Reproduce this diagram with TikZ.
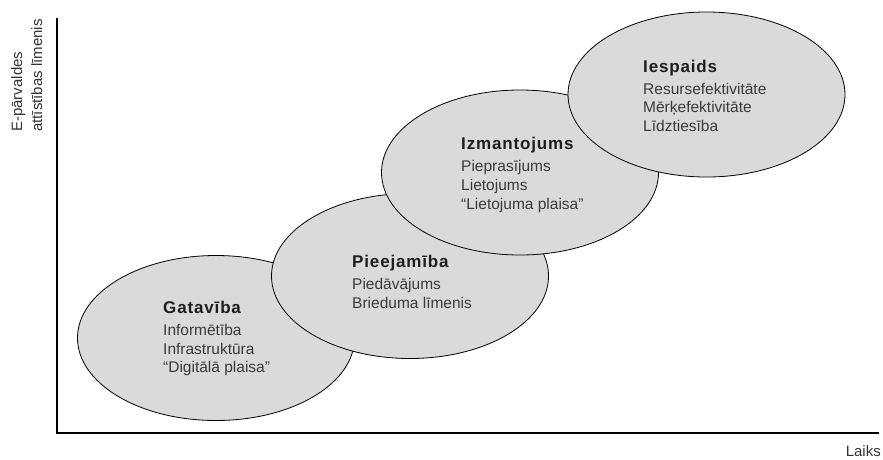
\documentclass[tikz,border=0pt]{standalone}
\usepackage{fontspec}
\setmainfont{Liberation Sans}
\usetikzlibrary{shapes.geometric}
\definecolor{stagefill}{HTML}{DADADA}
\definecolor{titletext}{HTML}{1E1E1E}
\definecolor{bodytext}{HTML}{3A3A3A}
\definecolor{axistext}{HTML}{333333}
\newfontfamily\titlefont[LetterSpace=5]{Liberation Sans Bold}
\begin{document}
\begin{tikzpicture}[x=1pt,y=-1pt,
  stage/.style={ellipse, draw=black, line width=0.8pt, fill=stagefill,
    minimum width=277pt, minimum height=165pt, inner sep=0pt},
  stagetitle/.style={anchor=base west, inner sep=0pt, text=titletext,
    font=\titlefont\fontsize{17}{20}\selectfont},
  stageitem/.style={anchor=base west, inner sep=0pt, text=bodytext,
    font=\fontsize{15.5}{18}\selectfont},
  axislabel/.style={inner sep=0pt, text=axistext,
    font=\fontsize{15}{18}\selectfont},
  axisline/.style={line width=1.5pt, draw=black}]
\useasboundingbox (0,0) rectangle (883,459);

% axes
\coordinate (top) at (57,18);
\coordinate (origin) at (57,433);
\coordinate (right) at (879,433);
\draw[axisline] (top) -- (origin) -- (right);

% axis labels
\node[axislabel, rotate=90, anchor=base west] (ylab1) at (22,132) {E-pārvaldes};
\node[axislabel, rotate=90, anchor=base west] (ylab2) at (42,132) {attīstības līmenis};
\node[axislabel, anchor=base east] (xlab) at (881,456) {Laiks};

% stages, each one drawn over the previous
\node[stage] (gat) at (216,338) {};
\node[stage] (pie) at (410,276) {};
\node[stage] (izm) at (520,172.5) {};
\node[stage] (ies) at (706.5,94.5) {};

% Gatavība
\node[stagetitle] (gatT) at (163,313) {Gatavība};
\node[stageitem] (gat1) at (163,335.5) {Informētība};
\node[stageitem] (gat2) at (163,354) {Infrastruktūra};
\node[stageitem] (gat3) at (163,372.5) {“Digitālā plaisa”};

% Pieejamība
\node[stagetitle] (pieT) at (352,267) {Pieejamība};
\node[stageitem] (pie1) at (352,289.5) {Piedāvājums};
\node[stageitem] (pie2) at (352,308) {Brieduma līmenis};

% Izmantojums
\node[stagetitle] (izmT) at (461,149) {Izmantojums};
\node[stageitem] (izm1) at (461,171) {Pieprasījums};
\node[stageitem] (izm2) at (461,190.5) {Lietojums};
\node[stageitem] (izm3) at (461,209.5) {“Lietojuma plaisa”};

% Iespaids
\node[stagetitle] (iesT) at (643,72) {Iespaids};
\node[stageitem] (ies1) at (643,94) {Resursefektivitāte};
\node[stageitem] (ies2) at (643,112.5) {Mērķefektivitāte};
\node[stageitem] (ies3) at (643,131) {Līdztiesība};
\end{tikzpicture}
\end{document}
